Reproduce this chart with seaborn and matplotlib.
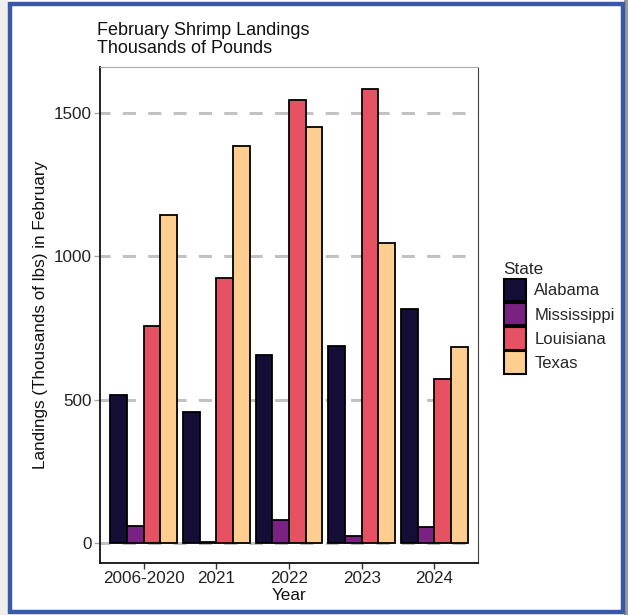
import pandas as pd
import numpy as np
import matplotlib
matplotlib.use("Agg")
import matplotlib.pyplot as plt
import seaborn as sns
from matplotlib.patches import Rectangle

# === Data ===
years = ["2006-2020", "2021", "2022", "2023", "2024"]
states = ["Alabama", "Mississippi", "Louisiana", "Texas"]
alabama = [516, 457, 656, 687, 816]
mississippi = [59, 3, 80, 24, 56]
louisiana = [757, 924, 1545, 1584, 572]
texas = [1144, 1385, 1451, 1046, 684]
state_colors = ["#140E36", "#7A2282", "#E65164", "#FECE91"]

df = pd.DataFrame({
    "Year": years * 4,
    "State": np.repeat(states, len(years)),
    "Landings": alabama + mississippi + louisiana + texas,
})

# === Style ===
sns.set_theme(style="white")
plt.rcParams["font.family"] = ["Liberation Sans", "DejaVu Sans"]
FS = 12.3

fig = plt.figure(figsize=(6.28, 6.15), dpi=100)
ax = fig.add_axes([100 / 628, 1 - 563 / 615, 378 / 628, 496 / 615])

# dashed grid behind the bars
for yv in [0, 500, 1000, 1500]:
    ax.axhline(yv, color="#C2C2C2", lw=2.2, ls=(1, (4.3, 4.0)), zorder=0)

sns.barplot(data=df, x="Year", y="Landings", hue="State", order=years,
            hue_order=states, palette=state_colors, width=0.92, gap=0,
            edgecolor="black", linewidth=1.3, saturation=1, ax=ax, zorder=2)

ax.set_xlim(-0.6, 4.6)
ax.set_ylim(-70, 1660)
ax.set_yticks([0, 500, 1000, 1500])
ax.set_xlabel("Year", fontsize=FS, color="#111111", labelpad=1)
ax.set_ylabel("Landings (Thousands of lbs) in February", fontsize=FS,
              color="#111111", labelpad=4)
ax.tick_params(axis="both", labelsize=FS, labelcolor="#222222",
               length=4, width=1, color="#AAAAAA", pad=2, left=True, bottom=True)
ax.tick_params(axis="x", color="#333333")

for side in ["left", "bottom"]:
    ax.spines[side].set_color("#111111")
    ax.spines[side].set_linewidth(1.3)
ax.spines["top"].set_color("#AAAAAA")
ax.spines["top"].set_linewidth(0.8)
ax.spines["right"].set_color("#444444")
ax.spines["right"].set_linewidth(0.8)

# legend
handles, labels = ax.get_legend_handles_labels()
ax.legend(handles, labels, title="State", loc="upper left",
          bbox_to_anchor=(1.05, 0.62), frameon=False, fontsize=12,
          title_fontsize=FS, handlelength=1.35, handleheight=1.7,
          handletextpad=0.5, labelspacing=0.1, borderaxespad=0)
for p in ax.get_legend().get_patches():
    p.set_edgecolor("black")
    p.set_linewidth(1.5)
ax.get_legend()._legend_box.align = "left"

# title
fig.text(97 / 628, 1 - 22 / 615, "February Shrimp Landings\nThousands of Pounds",
         fontsize=13, color="#111111", va="top", ha="left", linespacing=1.1)

# outer frame
fig.patches.append(Rectangle((0, 0), 8 / 628, 1, transform=fig.transFigure,
                             facecolor="#EEEEEE", edgecolor="none", zorder=-1))
fig.patches.append(Rectangle((624 / 628, 0), 4 / 628, 1, transform=fig.transFigure,
                             facecolor="#9A9A9A", edgecolor="none", zorder=-1))
fig.patches.append(Rectangle((10 / 628, 3 / 615), 613 / 628, 608 / 615,
                             transform=fig.transFigure, fill=False,
                             edgecolor="#3A58A8", linewidth=3.2, zorder=5))

fig.savefig("out.png", dpi=100)
